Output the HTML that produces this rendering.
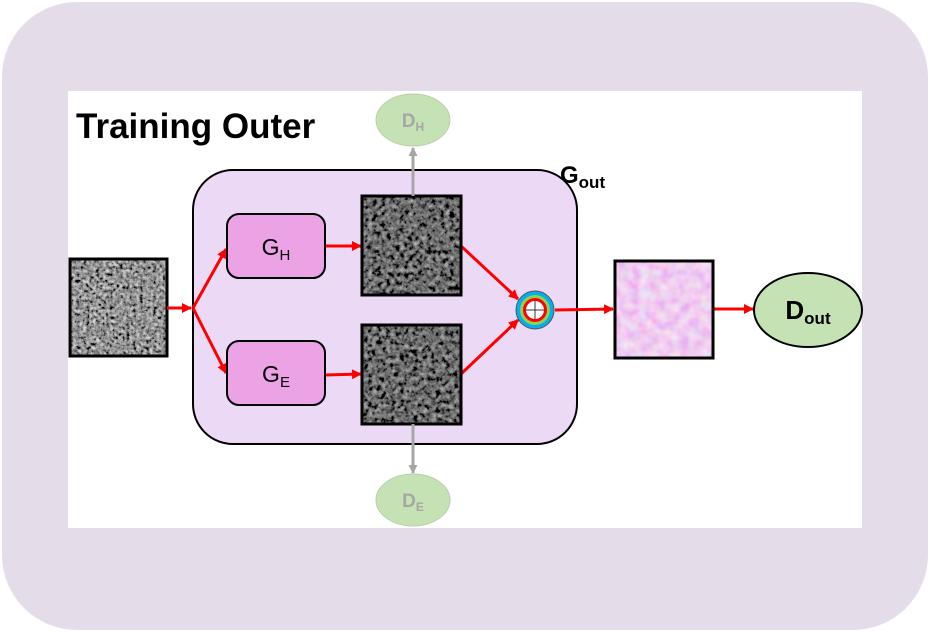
<!DOCTYPE html>
<html><head><meta charset="utf-8"><style>
html,body{margin:0;padding:0;background:#fff}
svg{display:block}
text{font-family:"Liberation Sans","DejaVu Sans",sans-serif}
</style></head><body>
<svg width="930" height="632" viewBox="0 0 930 632">
<defs>
<filter id="gray" x="0" y="0" width="100%" height="100%">
<feTurbulence type="fractalNoise" baseFrequency="0.3" numOctaves="3" seed="3"/>
<feColorMatrix type="matrix" values="0.33 0.33 0.33 0 0  0.33 0.33 0.33 0 0  0.33 0.33 0.33 0 0  0 0 0 0 1"/>
<feComponentTransfer><feFuncR type="linear" slope="2.0" intercept="-0.7"/><feFuncG type="linear" slope="2.0" intercept="-0.7"/><feFuncB type="linear" slope="2.0" intercept="-0.7"/></feComponentTransfer>
</filter>
<filter id="dark" x="0" y="0" width="100%" height="100%">
<feTurbulence type="fractalNoise" baseFrequency="0.22" numOctaves="3" seed="7"/>
<feColorMatrix type="matrix" values="0.33 0.33 0.33 0 0  0.33 0.33 0.33 0 0  0.33 0.33 0.33 0 0  0 0 0 0 1"/>
<feComponentTransfer><feFuncR type="linear" slope="1.4" intercept="-0.55"/><feFuncG type="linear" slope="1.4" intercept="-0.55"/><feFuncB type="linear" slope="1.4" intercept="-0.55"/></feComponentTransfer>
</filter>
<filter id="pink" x="0" y="0" width="100%" height="100%">
<feTurbulence type="fractalNoise" baseFrequency="0.1" numOctaves="2" seed="5"/>
<feColorMatrix type="matrix" values="0.3 0 0 0 0.72  0 0.6 0 0 0.3  0 0 0.2 0 0.78  0 0 0 0 1"/>
</filter>
<marker id="ar" markerWidth="10" markerHeight="10" refX="9" refY="5" orient="auto" markerUnits="userSpaceOnUse"><path d="M0,0 L10,5 L0,10z" fill="#ff0000"/></marker>
<marker id="ag" markerWidth="9" markerHeight="9" refX="8" refY="4.5" orient="auto" markerUnits="userSpaceOnUse"><path d="M0,0 L9,4.5 L0,9z" fill="#a6a6a6"/></marker>
</defs>
<rect x="2" y="2" width="926" height="628" rx="75" fill="#e4dde9"/>
<rect x="68" y="91" width="794" height="437" fill="#fff"/>
<text x="76" y="138" font-size="35" font-weight="bold" fill="#000">Training Outer</text>

<rect x="193" y="170" width="384" height="274" rx="40" fill="#ecd9f5" stroke="#000" stroke-width="2"/>
<text x="560" y="183" font-size="24" font-weight="bold">G<tspan font-size="17" dy="5">out</tspan></text>

<rect x="70" y="259" width="97" height="97" filter="url(#gray)"/>
<rect x="70" y="259" width="97" height="97" fill="none" stroke="#000" stroke-width="3"/>

<g stroke="#ff0000" stroke-width="3" fill="none">
<line x1="167" y1="308" x2="191" y2="308" marker-end="url(#ar)"/>
<line x1="193" y1="308" x2="226" y2="249" marker-end="url(#ar)"/>
<line x1="193" y1="308" x2="226" y2="373" marker-end="url(#ar)"/>
<line x1="325" y1="246" x2="361" y2="246" marker-end="url(#ar)"/>
<line x1="325" y1="375" x2="361" y2="374" marker-end="url(#ar)"/>
<line x1="461" y1="246" x2="518" y2="299" marker-end="url(#ar)"/>
<line x1="461" y1="374" x2="518" y2="320" marker-end="url(#ar)"/>
<line x1="555" y1="310" x2="613" y2="309" marker-end="url(#ar)"/>
<line x1="713" y1="309" x2="753" y2="309" marker-end="url(#ar)"/>
</g>

<rect x="227" y="214" width="98" height="64" rx="12" fill="#eba3e6" stroke="#000" stroke-width="2"/>
<text x="276" y="255" font-size="23" text-anchor="middle">G<tspan font-size="15" dy="5">H</tspan></text>
<rect x="227" y="341" width="98" height="64" rx="12" fill="#eba3e6" stroke="#000" stroke-width="2"/>
<text x="276" y="382" font-size="23" text-anchor="middle">G<tspan font-size="15" dy="5">E</tspan></text>

<rect x="362" y="196" width="99" height="99" filter="url(#dark)"/>
<rect x="362" y="196" width="99" height="99" fill="none" stroke="#000" stroke-width="3"/>
<rect x="362" y="325" width="99" height="99" filter="url(#dark)"/>
<rect x="362" y="325" width="99" height="99" fill="none" stroke="#000" stroke-width="3"/>

<line x1="413" y1="196" x2="413" y2="148" stroke="#a6a6a6" stroke-width="3" marker-end="url(#ag)"/>
<line x1="413" y1="424" x2="413" y2="473" stroke="#a6a6a6" stroke-width="3" marker-end="url(#ag)"/>
<ellipse cx="413" cy="120" rx="37" ry="26" fill="#c5e2b5" stroke="#b9cfae"/>
<text x="413" y="127" font-size="19" text-anchor="middle" fill="#a6a6a6" font-weight="bold">D<tspan font-size="12" dy="4">H</tspan></text>
<ellipse cx="413" cy="500" rx="37" ry="26" fill="#c5e2b5" stroke="#b9cfae"/>
<text x="413" y="507" font-size="19" text-anchor="middle" fill="#a6a6a6" font-weight="bold">D<tspan font-size="12" dy="4">E</tspan></text>

<g>
<circle cx="535" cy="310" r="19" fill="#00b0f0" stroke="#555" stroke-width="1"/>
<circle cx="535" cy="310" r="15" fill="#92d050"/>
<circle cx="535" cy="310" r="12" fill="#ff0000"/>
<circle cx="535" cy="310" r="9" fill="#fff"/>
<line x1="526" y1="310" x2="544" y2="310" stroke="#333"/>
<line x1="535" y1="301" x2="535" y2="319" stroke="#333"/>
</g>

<rect x="615" y="261" width="98" height="97" filter="url(#pink)"/>
<rect x="615" y="261" width="98" height="97" fill="none" stroke="#000" stroke-width="3"/>

<ellipse cx="808" cy="310" rx="54" ry="37" fill="#c5e2b5" stroke="#000" stroke-width="2"/>
<text x="808" y="319" font-size="26" text-anchor="middle" font-weight="bold">D<tspan font-size="17" dy="5">out</tspan></text>
</svg>
</body></html>
